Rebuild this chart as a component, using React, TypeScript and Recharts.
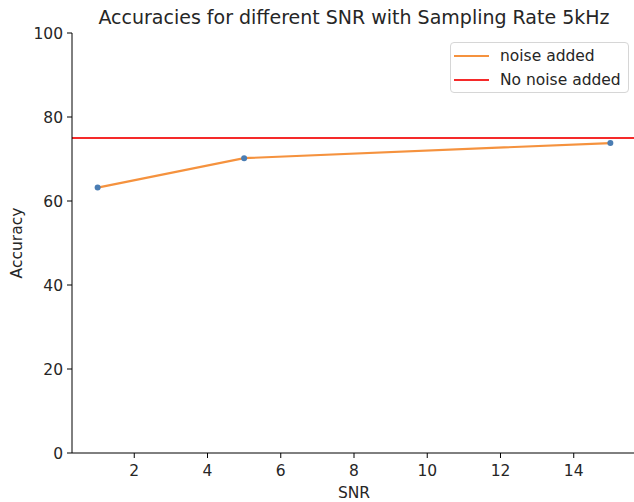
import { ComposedChart, Line, XAxis, YAxis, ReferenceLine, Legend, Label } from 'recharts';

const snr = [1, 5, 15];
const accuracy = [63.2, 70.2, 73.8];
const noNoiseAccuracy = 75;
const xTicks = [2, 4, 6, 8, 10, 12, 14];
const yTicks = [0, 20, 40, 60, 80, 100];
const legendItems = [
  { label: 'noise added', color: '#f5923e' },
  { label: 'No noise added', color: '#f52a2a' },
];

const rows = snr.map((s, i) => ({ snr: s, acc: accuracy[i] }));

const font = '"DejaVu Sans", sans-serif';
const tickStyle = { fontSize: 15.5, fill: '#262626', fontFamily: font };

const LegendBox = () => (
  <div
    style={{
      width: 179,
      height: 51,
      boxSizing: 'border-box',
      border: '1px solid #d6d6d6',
      borderRadius: 4,
      background: 'rgba(255,255,255,0.8)',
      padding: '1px 0 0 3px',
      fontFamily: font,
      fontSize: 15.5,
      color: '#262626',
    }}
  >
    {legendItems.map((it) => (
      <div key={it.label} style={{ display: 'flex', alignItems: 'center', height: 24 }}>
        <span style={{ display: 'inline-block', width: 35, height: 2, background: it.color, marginRight: 11 }} />
        <span>{it.label}</span>
      </div>
    ))}
  </div>
);

const App = () => {
  return (
    <div style={{ position: 'absolute', left: 0, top: 0, width: 634, height: 502, overflow: 'hidden', background: '#fff' }}>
      <div
        style={{
          position: 'absolute',
          left: 72,
          width: 564,
          top: 5,
          lineHeight: '24px',
          textAlign: 'center',
          fontFamily: font,
          fontSize: 19,
          color: '#262626',
        }}
      >
        Accuracies for different SNR with Sampling Rate 5kHz
      </div>
      <ComposedChart width={640} height={502} data={rows} margin={{ top: 33, right: 4, left: 20, bottom: 8 }}>
        <XAxis
          dataKey="snr"
          type="number"
          domain={[0.3, 15.7]}
          ticks={xTicks}
          height={41}
          tickSize={5}
          tickMargin={7}
          tick={tickStyle}
          stroke="#000"
          allowDataOverflow
        >
          <Label
            content={({ viewBox }: any) => (
              <text
                x={viewBox.x + viewBox.width / 2}
                y={498}
                textAnchor="middle"
                fontSize={15.5}
                fontFamily={font}
                fill="#262626"
              >
                SNR
              </text>
            )}
          />
        </XAxis>
        <XAxis xAxisId="top" orientation="top" type="number" domain={[0.3, 15.7]} height={0} tick={false} tickLine={false} stroke="#000" />
        <YAxis
          type="number"
          domain={[0, 100]}
          ticks={yTicks}
          width={52}
          tickSize={5}
          tickMargin={4}
          tick={tickStyle}
          stroke="#000"
        >
          <Label
            content={({ viewBox }: any) => {
              const cy = viewBox.y + viewBox.height / 2;
              return (
                <text
                  x={22}
                  y={cy}
                  transform={`rotate(-90 22 ${cy})`}
                  textAnchor="middle"
                  fontSize={15.5}
                  fontFamily={font}
                  fill="#262626"
                >
                  Accuracy
                </text>
              );
            }}
          />
        </YAxis>
        <YAxis yAxisId="right" orientation="right" width={0} tick={false} tickLine={false} stroke="#000" />
        <ReferenceLine y={noNoiseAccuracy} stroke="#f52a2a" strokeWidth={2} />
        <Line
          dataKey="acc"
          stroke="#f5923e"
          strokeWidth={2.2}
          dot={{ r: 3, fill: '#4a7db3', stroke: 'none' }}
          isAnimationActive={false}
        />
        <Legend
          layout="vertical"
          align="center"
          verticalAlign="middle"
          content={() => <LegendBox />}
          wrapperStyle={{ top: 42, left: 450, width: 179 }}
        />
      </ComposedChart>
    </div>
  );
};

export default App;
